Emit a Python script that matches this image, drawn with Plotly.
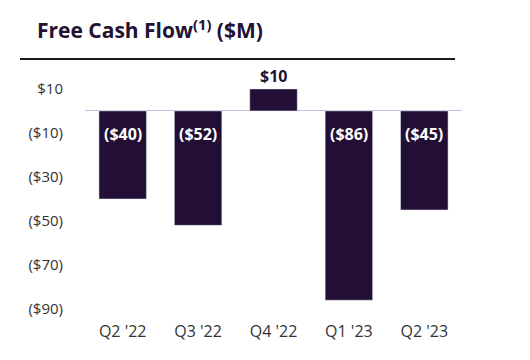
import plotly.graph_objects as go

categories = ["Q2 '22", "Q3 '22", "Q4 '22", "Q1 '23", "Q2 '23"]
fcf = [-40, -52, 10, -86, -45]
labels = ["($40)", "($52)", "$10", "($86)", "($45)"]
tick_vals = [10, -10, -30, -50, -70, -90]
tick_text = ["$10", "($10)", "($30)", "($50)", "($70)", "($90)"]

BAR = "#230f35"
FONT = "Open Sans"
OFF = 8  # page body margin

L, T = 85 - OFF, 70 - OFF
PW, PH = 377, 250

fig = go.Figure()
fig.add_trace(go.Bar(x=categories, y=fcf, marker_color=BAR, width=0.63,
                     hoverinfo="skip"))

for c, v, t in zip(categories, fcf, labels):
    if v < 0:
        fig.add_annotation(x=c, y=0, text="<b>%s</b>" % t, showarrow=False,
                           yanchor="top", yshift=-10,
                           font=dict(family=FONT, size=16, color="white"))
    else:
        fig.add_annotation(x=c, y=v, text="<b>%s</b>" % t, showarrow=False,
                           yanchor="bottom", yshift=0,
                           font=dict(family=FONT, size=16, color="#231232"))

fig.add_shape(type="line", xref="paper", yref="paper",
              x0=(20 - 85) / PW, x1=(455 - 85) / PW,
              y0=(320 - 59) / PH, y1=(320 - 59) / PH,
              line=dict(color="#1a1a1a", width=2))

fig.update_layout(
    width=530, height=360,
    margin=dict(l=L, r=530 - L - PW, t=T, b=360 - T - PH),
    plot_bgcolor="white", paper_bgcolor="white",
    showlegend=False,
    title=dict(text="<b>Free Cash Flow<sup>(1)</sup> ($M)</b>",
               xref="container", yref="container",
               x=(37 - OFF) / 530, xanchor="left", y=1 - (31 - OFF) / 360,
               yanchor="middle",
               font=dict(family=FONT, size=21, color="#231232")),
    xaxis=dict(showgrid=False, showline=False, ticks="",
               tickfont=dict(family=FONT, size=16, color="#333333")),
    yaxis=dict(range=[-95, 18.6], showgrid=False, showline=False,
               zeroline=True, zerolinecolor="#cbbde0", zerolinewidth=1,
               tickvals=tick_vals, ticktext=tick_text,
               ticks="outside", ticklen=18, tickcolor="white",
               tickfont=dict(family=FONT, size=15, color="#333333")),
)

fig.write_html("out.html")
